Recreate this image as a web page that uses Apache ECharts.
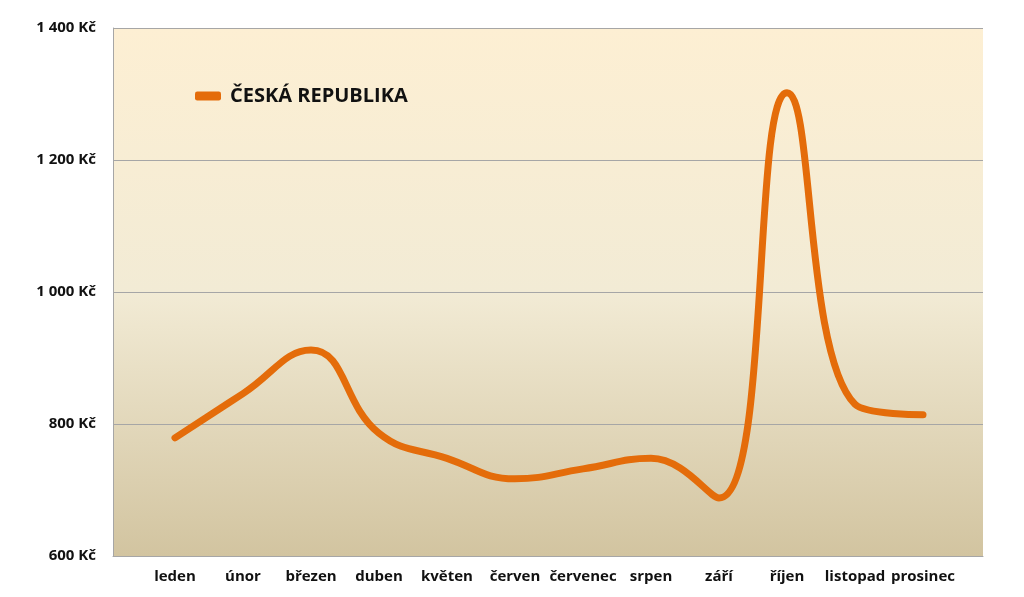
<!DOCTYPE html>
<html>
<head>
<meta charset="utf-8">
<script src="https://cdn.jsdelivr.net/npm/echarts@6/dist/echarts.min.js"></script>
<style>html,body{margin:0;padding:0;background:#fff;}#c{width:1024px;height:597px;}</style>
</head>
<body>
<div id="c"></div>
<script>
const categories = ['leden','únor','březen','duben','květen','červen','červenec','srpen','září','říjen','listopad','prosinec'];
const seriesName = 'ČESKÁ REPUBLIKA';
const values = [779, 846, 912, 786, 748, 717, 732, 748, 688, 1302, 830, 814];
const yTicks = [600, 800, 1000, 1200, 1400];

const fontFam = '"Open Sans", "Noto Sans", sans-serif';
function fmt(v){ return String(v).replace(/\B(?=(\d{3})+(?!\d))/g, ' ') + ' Kč'; }

const chart = echarts.init(document.getElementById('c'));
chart.setOption({
  animation: false,
  backgroundColor: '#ffffff',
  grid: [
    {left: 113, right: 41, top: 28, bottom: 41, show: true, borderWidth: 0,
     backgroundColor: new echarts.graphic.LinearGradient(0,0,0,1,[
       {offset:0, color:'#FDEFD3'},{offset:0.5, color:'#F2EBD5'},{offset:1, color:'#D2C4A0'}])},
    {left: 141, right: 67, top: 28, bottom: 41}
  ],
  legend: {
    left: 195, top: 86, padding: 0, icon: 'roundRect', itemWidth: 26, itemHeight: 9, itemGap: 13,
    textStyle: {fontFamily: fontFam, fontWeight: 'bold', fontSize: 20, color: '#111', padding: [0, 0, 0, 4]},
    data: [{name: seriesName, itemStyle: {color: '#E46C0A'}}]
  },
  xAxis: [
    {type: 'category', gridIndex: 0, data: categories, show: true,
     axisLine: {show: true, lineStyle: {color: '#A6A6A6', width: 1}}, axisTick: {show: false}, axisLabel: {show: false}},
    {type: 'category', gridIndex: 1, data: categories, boundaryGap: true,
     axisLine: {show: false}, axisTick: {show: false},
     axisLabel: {margin: 13, fontFamily: fontFam, fontWeight: 'bold', fontSize: 15, color: '#111', interval: 0}}
  ],
  yAxis: [
    {type: 'value', gridIndex: 0, min: yTicks[0], max: yTicks[yTicks.length-1], interval: 200,
     axisLine: {show: true, lineStyle: {color: '#A6A6A6'}}, axisTick: {show: false},
     splitLine: {show: true, lineStyle: {color: '#A6A6A6', width: 1}},
     axisLabel: {margin: 17, formatter: fmt, fontFamily: fontFam, fontWeight: 'bold', fontSize: 15, color: '#111'}},
    {type: 'value', gridIndex: 1, min: yTicks[0], max: yTicks[yTicks.length-1], show: false, splitLine: {show: false}}
  ],
  series: [{
    name: seriesName, type: 'line', xAxisIndex: 1, yAxisIndex: 1, data: values,
    smooth: 0.45, showSymbol: false, symbol: 'none',
    lineStyle: {color: '#E46C0A', width: 7, cap: 'round', join: 'round'},
    itemStyle: {color: '#E46C0A'}
  }]
});
</script>
</body>
</html>
